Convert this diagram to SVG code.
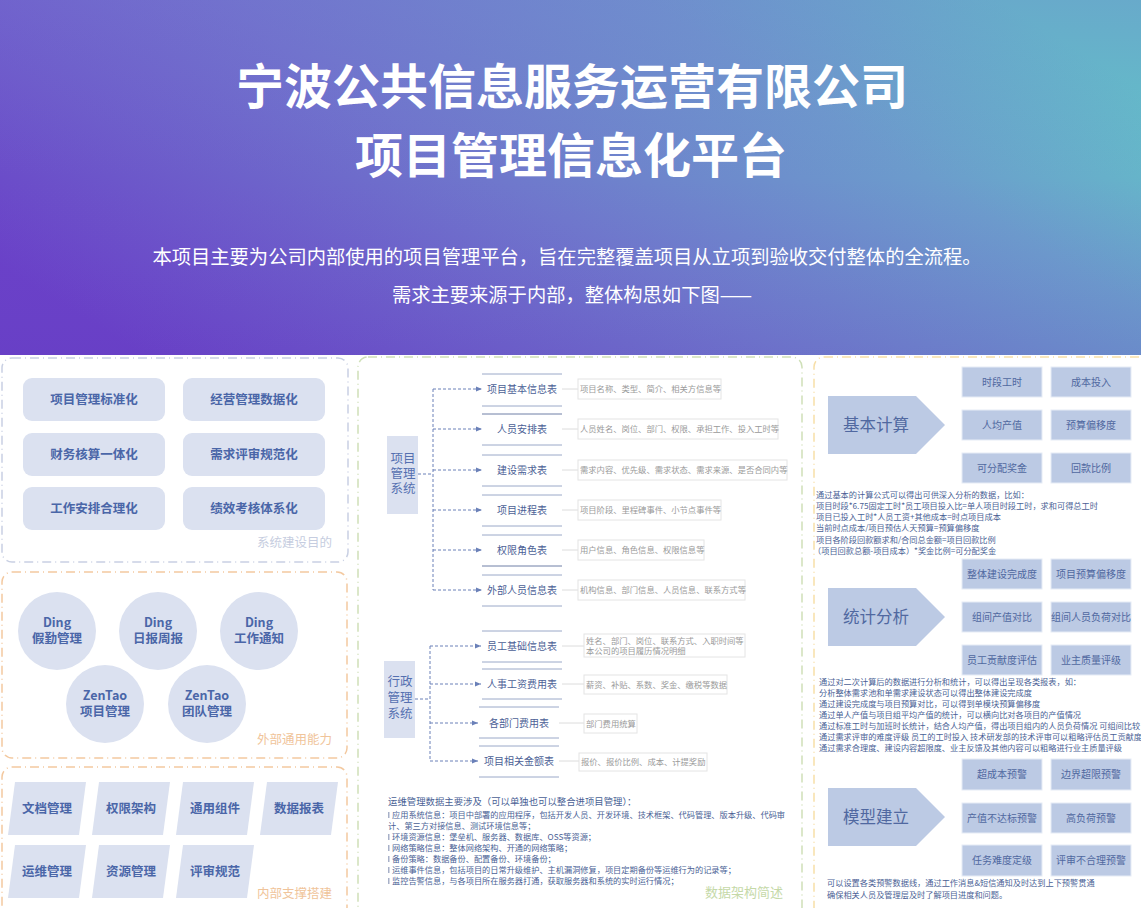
<svg xmlns="http://www.w3.org/2000/svg" width="1141" height="908" viewBox="0 0 1141 908">
<style>
text{font-family:"Noto Sans CJK SC","Noto Sans",sans-serif}
.t1{font-size:48px;font-weight:700;fill:#fff;text-anchor:middle}
.st{font-size:19.3px;fill:#fff;text-anchor:middle}
.pb{fill:#dbe1f0}
.pbt{font-size:12.5px;font-weight:700;fill:#4a66a8;text-anchor:middle}
.cap{font-size:12.5px;text-anchor:end}
.sys{fill:#dbe1f0}
.syst{font-size:12.5px;fill:#5570b0;text-anchor:middle}
.item{font-size:10px;fill:#4c5f96;text-anchor:middle}
.band{stroke:#9aa8c8;stroke-width:1}
.dbox{fill:#fff;stroke:#e4e4e4;stroke-width:1}
.dline{stroke:#dcdcdc;stroke-width:1}
.desc{font-size:8.3px;fill:#9a9a9a}
.conn{stroke:#6a80b8;stroke-width:1;stroke-dasharray:3 2;fill:none}
.note{font-size:8.2px;fill:#4a5f95}
.arr{fill:#bccae4}
.arrt{font-size:16.5px;fill:#5068a0}
.g{fill:#bccae4;stroke:#e6ecf6;stroke-width:1}
.gt{font-size:10px;fill:#5068a0;text-anchor:middle}
.bul{fill:#a7b0c8}
</style>
<defs>
<linearGradient id="hdr" x1="0" y1="0.75" x2="1" y2="0.25">
<stop offset="0" stop-color="#6a40c8"/>
<stop offset="0.45" stop-color="#6f78cc"/>
<stop offset="0.75" stop-color="#6c9ccc"/>
<stop offset="1" stop-color="#62c4c8"/>
</linearGradient>
<linearGradient id="shade" x1="0" y1="0" x2="0" y2="1">
<stop offset="0" stop-color="#7a5cd2" stop-opacity="0.25"/>
<stop offset="0.5" stop-color="#7a5cd2" stop-opacity="0"/>
<stop offset="1" stop-color="#5a3cb8" stop-opacity="0.12"/>
</linearGradient>
<marker id="ah" viewBox="0 0 6 6" refX="6" refY="3" markerWidth="6" markerHeight="6" orient="auto" markerUnits="userSpaceOnUse">
<path d="M0,0.5 L6,3 L0,5.5 Z" fill="#6a80b8"/>
</marker>
</defs>

<g id="header">
<rect x="0" y="0" width="1141" height="355" fill="url(#hdr)"/>
<rect x="0" y="0" width="1141" height="355" fill="url(#shade)"/>
<text class="t1" x="572" y="104">宁波公共信息服务运营有限公司</text>
<text class="t1" x="571" y="173">项目管理信息化平台</text>
<text class="st" x="567" y="264">本项目主要为公司内部使用的项目管理平台，旨在完整覆盖项目从立项到验收交付整体的全流程。</text>
<text class="st" x="572" y="302">需求主要来源于内部，整体构思如下图——</text>
</g>

<g id="panel-goals">
<rect x="2" y="358" width="346" height="204" rx="10" fill="none" stroke="#c9d0e3" stroke-width="1.5" stroke-dasharray="9 4 1 4"/>
<rect class="pb" x="23" y="378" width="142" height="43" rx="9"/><text class="pbt" x="94" y="404">项目管理标准化</text>
<rect class="pb" x="183" y="378" width="142" height="43" rx="9"/><text class="pbt" x="254" y="404">经营管理数据化</text>
<rect class="pb" x="23" y="433" width="142" height="43" rx="9"/><text class="pbt" x="94" y="459">财务核算一体化</text>
<rect class="pb" x="183" y="433" width="142" height="43" rx="9"/><text class="pbt" x="254" y="459">需求评审规范化</text>
<rect class="pb" x="23" y="487" width="142" height="43" rx="9"/><text class="pbt" x="94" y="513">工作安排合理化</text>
<rect class="pb" x="183" y="487" width="142" height="43" rx="9"/><text class="pbt" x="254" y="513">绩效考核体系化</text>
<text class="cap" x="332" y="547" fill="#c6cde0">系统建设目的</text>
</g>

<g id="panel-external">
<rect x="2" y="572" width="345" height="186" rx="10" fill="none" stroke="#f3c9a0" stroke-width="1.5" stroke-dasharray="9 4 1 4"/>
<circle class="pb" cx="57" cy="631" r="39"/><text class="pbt" x="57" y="627">Ding</text><text class="pbt" x="57" y="643">假勤管理</text>
<circle class="pb" cx="158" cy="631" r="39"/><text class="pbt" x="158" y="627">Ding</text><text class="pbt" x="158" y="643">日报周报</text>
<circle class="pb" cx="259" cy="631" r="39"/><text class="pbt" x="259" y="627">Ding</text><text class="pbt" x="259" y="643">工作通知</text>
<circle class="pb" cx="105" cy="704" r="39"/><text class="pbt" x="105" y="700">ZenTao</text><text class="pbt" x="105" y="716">项目管理</text>
<circle class="pb" cx="207" cy="704" r="39"/><text class="pbt" x="207" y="700">ZenTao</text><text class="pbt" x="207" y="716">团队管理</text>
<text class="cap" x="332" y="744" fill="#f0c49a">外部通用能力</text>
</g>

<g id="panel-internal">
<rect x="2" y="767" width="345" height="150" rx="10" fill="none" stroke="#f3c9a0" stroke-width="1.5" stroke-dasharray="9 4 1 4"/>
<polygon class="pb" points="15,782 86,782 79,835 8,835"/><text class="pbt" x="47" y="813">文档管理</text>
<polygon class="pb" points="99,782 170,782 163,835 92,835"/><text class="pbt" x="131" y="813">权限架构</text>
<polygon class="pb" points="183,782 254,782 247,835 176,835"/><text class="pbt" x="215" y="813">通用组件</text>
<polygon class="pb" points="267,782 338,782 331,835 260,835"/><text class="pbt" x="299" y="813">数据报表</text>
<polygon class="pb" points="15,845 86,845 79,898 8,898"/><text class="pbt" x="47" y="876">运维管理</text>
<polygon class="pb" points="99,845 170,845 163,898 92,898"/><text class="pbt" x="131" y="876">资源管理</text>
<polygon class="pb" points="183,845 254,845 247,898 176,898"/><text class="pbt" x="215" y="876">评审规范</text>
<text class="cap" x="332" y="898" fill="#f0c49a">内部支撑搭建</text>
</g>

<g id="panel-data">
<rect x="358" y="357" width="444" height="560" rx="10" fill="none" stroke="#cfe0b8" stroke-width="1.5" stroke-dasharray="9 4 1 4"/>
<text x="783" y="897" font-size="13" fill="#c5d9a8" text-anchor="end">数据架构简述</text>
</g>

<g id="pm-system">
<rect class="sys" x="387" y="436" width="31" height="78"/>
<text class="syst" x="403" y="463">项目</text>
<text class="syst" x="403" y="478">管理</text>
<text class="syst" x="403" y="493">系统</text>
</g>

<g id="admin-system">
<rect class="sys" x="384" y="661" width="31" height="77"/>
<text class="syst" x="400" y="686">行政</text>
<text class="syst" x="400" y="702">管理</text>
<text class="syst" x="400" y="718">系统</text>
</g>

<g id="connectors">
<path class="conn" d="M418,474 H433 M433,389 V590"/>
<path class="conn" d="M433,389 H482" marker-end="url(#ah)"/>
<path class="conn" d="M433,429 H482" marker-end="url(#ah)"/>
<path class="conn" d="M433,470 H482" marker-end="url(#ah)"/>
<path class="conn" d="M433,510 H482" marker-end="url(#ah)"/>
<path class="conn" d="M433,550 H482" marker-end="url(#ah)"/>
<path class="conn" d="M433,590 H482" marker-end="url(#ah)"/>
<path class="conn" d="M415,699 H430 M430,646 V761"/>
<path class="conn" d="M430,646 H481" marker-end="url(#ah)"/>
<path class="conn" d="M430,684 H481" marker-end="url(#ah)"/>
<path class="conn" d="M430,723 H478" marker-end="url(#ah)"/>
<path class="conn" d="M430,761 H478" marker-end="url(#ah)"/>
<g class="dline">
<line x1="562" y1="389" x2="578" y2="389"/><line x1="562" y1="429" x2="578" y2="429"/><line x1="562" y1="470" x2="578" y2="470"/>
<line x1="562" y1="510" x2="578" y2="510"/><line x1="562" y1="550" x2="578" y2="550"/><line x1="562" y1="590" x2="578" y2="590"/>
<line x1="562" y1="646" x2="584" y2="646"/><line x1="562" y1="684" x2="584" y2="684"/><line x1="559" y1="723" x2="584" y2="723"/><line x1="559" y1="761" x2="579" y2="761"/>
</g>
</g>

<g id="pm-tables">
<g class="band">
<line x1="482" y1="374" x2="562" y2="374"/><line x1="482" y1="406" x2="562" y2="406"/>
<line x1="482" y1="414" x2="562" y2="414" stroke="#6f7fa6"/><line x1="482" y1="445" x2="562" y2="445"/>
<line x1="482" y1="455" x2="562" y2="455"/><line x1="482" y1="486" x2="562" y2="486"/>
<line x1="482" y1="495" x2="562" y2="495"/><line x1="482" y1="526" x2="562" y2="526"/>
<line x1="482" y1="535" x2="562" y2="535"/><line x1="482" y1="566" x2="562" y2="566" stroke="#6f7fa6"/>
<line x1="482" y1="575" x2="562" y2="575"/><line x1="482" y1="606" x2="562" y2="606"/>
</g>
<text class="item" x="522" y="393">项目基本信息表</text>
<text class="item" x="522" y="433">人员安排表</text>
<text class="item" x="522" y="474">建设需求表</text>
<text class="item" x="522" y="514">项目进程表</text>
<text class="item" x="522" y="554">权限角色表</text>
<text class="item" x="522" y="594">外部人员信息表</text>
<rect class="dbox" x="578" y="379" width="143" height="20"/><text class="desc" x="580" y="392">项目名称、类型、简介、相关方信息等</text>
<rect class="dbox" x="578" y="419" width="200" height="20"/><text class="desc" x="580" y="432">人员姓名、岗位、部门、权限、承担工作、投入工时等</text>
<rect class="dbox" x="578" y="460" width="209" height="20"/><text class="desc" x="580" y="473">需求内容、优先级、需求状态、需求来源、是否合同内等</text>
<rect class="dbox" x="578" y="500" width="143" height="20"/><text class="desc" x="580" y="513">项目阶段、里程碑事件、小节点事件等</text>
<rect class="dbox" x="578" y="540" width="126" height="20"/><text class="desc" x="580" y="553">用户信息、角色信息、权限信息等</text>
<rect class="dbox" x="578" y="580" width="167" height="20"/><text class="desc" x="580" y="593">机构信息、部门信息、人员信息、联系方式等</text>
</g>

<g id="admin-tables">
<g class="band">
<line x1="482" y1="631" x2="562" y2="631"/><line x1="482" y1="662" x2="562" y2="662"/>
<line x1="482" y1="669" x2="562" y2="669"/><line x1="482" y1="699" x2="562" y2="699"/>
<line x1="479" y1="707" x2="559" y2="707"/><line x1="479" y1="738" x2="559" y2="738"/>
<line x1="479" y1="746" x2="559" y2="746"/><line x1="479" y1="777" x2="559" y2="777"/>
</g>
<text class="item" x="522" y="650">员工基础信息表</text>
<text class="item" x="522" y="688">人事工资费用表</text>
<text class="item" x="519" y="727">各部门费用表</text>
<text class="item" x="519" y="765">项目相关金额表</text>
<rect class="dbox" x="584" y="634" width="161" height="23"/><text class="desc" x="586" y="644">姓名、部门、岗位、联系方式、入职时间等</text><text class="desc" x="586" y="654">本公司的项目履历情况明细</text>
<rect class="dbox" x="584" y="675" width="143" height="19"/><text class="desc" x="586" y="688">薪资、补贴、系数、奖金、缴税等数据</text>
<rect class="dbox" x="584" y="714" width="53" height="19"/><text class="desc" x="586" y="727">部门费用统算</text>
<rect class="dbox" x="579" y="753" width="128" height="18"/><text class="desc" x="581" y="765">报价、报价比例、成本、计提奖励</text>
</g>

<g id="ops-note">
<text x="388" y="805" font-size="9.4" fill="#4a5f95">运维管理数据主要涉及（可以单独也可以整合进项目管理）：</text>
<rect class="bul" x="388" y="812" width="1.5" height="6"/><text class="note" x="392" y="818">应用系统信息：项目中部署的应用程序，包括开发人员、开发环境、技术框架、代码管理、版本升级、代码审</text>
<text class="note" x="388" y="829">计、第三方对接信息、测试环境信息等；</text>
<rect class="bul" x="388" y="834" width="1.5" height="6"/><text class="note" x="392" y="840">环境资源信息：堡垒机、服务器、数据库、OSS等资源；</text>
<rect class="bul" x="388" y="845" width="1.5" height="6"/><text class="note" x="392" y="851">网络策略信息：整体网络架构、开通的网络策略；</text>
<rect class="bul" x="388" y="856" width="1.5" height="6"/><text class="note" x="392" y="862">备份策略：数据备份、配置备份、环境备份；</text>
<rect class="bul" x="388" y="867" width="1.5" height="6"/><text class="note" x="392" y="873">运维事件信息，包括项目的日常升级维护、主机漏洞修复，项目定期备份等运维行为的记录等；</text>
<rect class="bul" x="388" y="878" width="1.5" height="6"/><text class="note" x="392" y="884">监控告警信息，与各项目所在服务器打通，获取服务器和系统的实时运行情况；</text>
</g>

<g id="panel-analysis">
<rect x="814" y="357" width="340" height="560" rx="10" fill="none" stroke="#f7dfa8" stroke-width="1.5" stroke-dasharray="9 4 1 4"/>
</g>

<g id="basic-calc">
<polygon class="arr" points="828,396 916,396 945,425 916,454 828,454"/>
<text class="arrt" x="843" y="431">基本计算</text>
<rect class="g" x="962" y="367" width="80" height="30"/><text class="gt" x="1002" y="386">时段工时</text>
<rect class="g" x="1051" y="367" width="80" height="30"/><text class="gt" x="1091" y="386">成本投入</text>
<rect class="g" x="962" y="410" width="80" height="30"/><text class="gt" x="1002" y="429">人均产值</text>
<rect class="g" x="1051" y="410" width="80" height="30"/><text class="gt" x="1091" y="429">预算偏移度</text>
<rect class="g" x="962" y="453" width="80" height="30"/><text class="gt" x="1002" y="472">可分配奖金</text>
<rect class="g" x="1051" y="453" width="80" height="30"/><text class="gt" x="1091" y="472">回款比例</text>
<text class="note" x="816" y="498">通过基本的计算公式可以得出可供深入分析的数据，比如：</text>
<text class="note" x="816" y="509">项目时段*6.75固定工时*员工项目投入比=单人项目时段工时，求和可得总工时</text>
<text class="note" x="816" y="520">项目已投入工时*人员工资+其他成本=时点项目成本</text>
<text class="note" x="816" y="531">当前时点成本/项目预估人天预算=预算偏移度</text>
<text class="note" x="816" y="543">项目各阶段回款额求和/合同总金额=项目回款比例</text>
<text class="note" x="813" y="554">（项目回款总额-项目成本）*奖金比例=可分配奖金</text>
</g>

<g id="stat-analysis">
<polygon class="arr" points="828,588 916,588 945,617 916,646 828,646"/>
<text class="arrt" x="843" y="623">统计分析</text>
<rect class="g" x="962" y="559" width="80" height="30"/><text class="gt" x="1002" y="578">整体建设完成度</text>
<rect class="g" x="1051" y="559" width="80" height="30"/><text class="gt" x="1091" y="578">项目预算偏移度</text>
<rect class="g" x="962" y="602" width="80" height="30"/><text class="gt" x="1002" y="621">组间产值对比</text>
<rect class="g" x="1051" y="602" width="80" height="30"/><text class="gt" x="1091" y="621">组间人员负荷对比</text>
<rect class="g" x="962" y="645" width="80" height="30"/><text class="gt" x="1002" y="664">员工贡献度评估</text>
<rect class="g" x="1051" y="645" width="80" height="30"/><text class="gt" x="1091" y="664">业主质量评级</text>
<text class="note" x="819" y="685">通过对二次计算后的数据进行分析和统计，可以得出呈现各类报表，如：</text>
<text class="note" x="819" y="696">分析整体需求池和单需求建设状态可以得出整体建设完成度</text>
<text class="note" x="819" y="707">通过建设完成度与项目预算对比，可以得到单模块预算偏移度</text>
<text class="note" x="819" y="718">通过单人产值与项目组平均产值的统计，可以横向比对各项目的产值情况</text>
<text class="note" x="819" y="729">通过标准工时与加班时长统计，结合人均产值，得出项目组内的人员负荷情况 可组间比较</text>
<text class="note" x="819" y="740">通过需求评审的难度评级 员工的工时投入 技术研发部的技术评审可以粗略评估员工贡献度</text>
<text class="note" x="819" y="751">通过需求合理度、建设内容超限度、业主反馈及其他内容可以粗略进行业主质量评级</text>
</g>

<g id="model-build">
<polygon class="arr" points="828,788 916,788 945,817 916,846 828,846"/>
<text class="arrt" x="843" y="823">模型建立</text>
<rect class="g" x="962" y="759" width="80" height="31"/><text class="gt" x="1002" y="778">超成本预警</text>
<rect class="g" x="1051" y="759" width="80" height="31"/><text class="gt" x="1091" y="778">边界超限预警</text>
<rect class="g" x="962" y="803" width="80" height="30"/><text class="gt" x="1002" y="822">产值不达标预警</text>
<rect class="g" x="1051" y="803" width="80" height="30"/><text class="gt" x="1091" y="822">高负荷预警</text>
<rect class="g" x="962" y="845" width="80" height="31"/><text class="gt" x="1002" y="864">任务难度定级</text>
<rect class="g" x="1051" y="845" width="80" height="31"/><text class="gt" x="1091" y="864">评审不合理预警</text>
<text class="note" x="827" y="886">可以设置各类预警数据线，通过工作消息&amp;短信通知及时达到上下预警贯通</text>
<text class="note" x="827" y="898">确保相关人员及管理层及时了解项目进度和问题。</text>
</g>
</svg>
